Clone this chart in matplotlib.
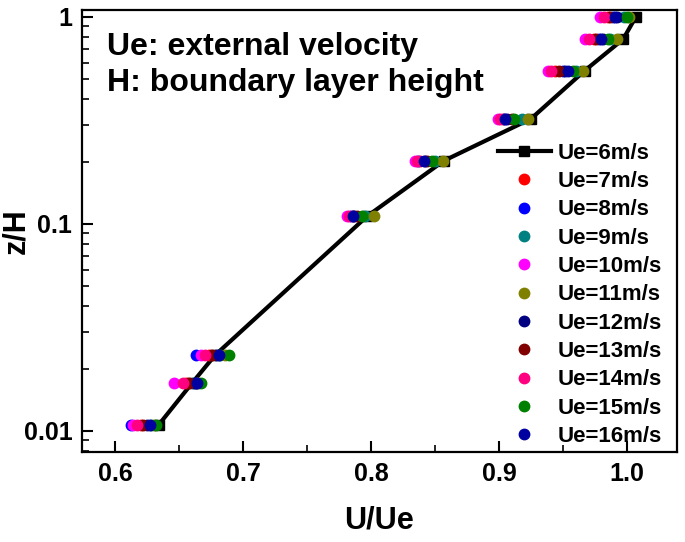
import matplotlib
matplotlib.use("Agg")
import matplotlib.pyplot as plt
import numpy as np

plt.rcParams['font.family'] = ['Liberation Sans', 'DejaVu Sans']
plt.rcParams['font.weight'] = 'bold'

# z/H levels
z_h = [0.0107, 0.017, 0.0232, 0.109, 0.202, 0.322, 0.55, 0.78, 1.0]

# U/Ue for each external velocity
ue6 = [0.634, 0.660, 0.678, 0.797, 0.857, 0.925, 0.967, 0.997, 1.007]
ue7 = [0.620, 0.655, 0.673, 0.786, 0.838, 0.903, 0.944, 0.974, 0.985]
ue8 = [0.612, 0.663, 0.663, 0.784, 0.837, 0.904, 0.950, 0.978, 0.989]
ue9 = [0.628, 0.661, 0.682, 0.795, 0.850, 0.918, 0.960, 0.987, 0.998]
ue10 = [0.614, 0.646, 0.667, 0.781, 0.834, 0.899, 0.938, 0.967, 0.979]
ue11 = [0.630, 0.665, 0.686, 0.802, 0.856, 0.923, 0.966, 0.992, 1.002]
ue12 = [0.625, 0.662, 0.679, 0.787, 0.842, 0.906, 0.952, 0.981, 0.992]
ue13 = [0.622, 0.658, 0.676, 0.789, 0.844, 0.910, 0.947, 0.976, 0.987]
ue14 = [0.617, 0.653, 0.670, 0.783, 0.836, 0.901, 0.941, 0.970, 0.982]
ue15 = [0.632, 0.667, 0.689, 0.793, 0.848, 0.912, 0.958, 0.985, 1.000]
ue16 = [0.627, 0.664, 0.681, 0.786, 0.841, 0.905, 0.954, 0.980, 0.991]

labels = ["Ue=6m/s", "Ue=7m/s", "Ue=8m/s", "Ue=9m/s", "Ue=10m/s", "Ue=11m/s",
          "Ue=12m/s", "Ue=13m/s", "Ue=14m/s", "Ue=15m/s", "Ue=16m/s"]
colors = ["#000000", "#ff0000", "#0000ff", "#008080", "#ff00ff", "#808000",
          "#000080", "#800000", "#ff0080", "#008000", "#0000a0"]
series = [ue6, ue7, ue8, ue9, ue10, ue11, ue12, ue13, ue14, ue15, ue16]

fig = plt.figure(figsize=(6.85, 5.42), dpi=100)
ax = fig.add_axes([0.1197, 0.166, 0.8683, 0.8155])

ax.plot(ue6, z_h, color="black", lw=3, marker="s", ms=6.5, label=labels[0], zorder=2)
for i in range(1, len(series)):
    ax.plot(series[i], z_h, ls="none", marker="o", ms=7.5, color=colors[i],
            label=labels[i], zorder=3)

ax.set_yscale("log")
ax.set_xlim(0.574, 1.039)
ax.set_ylim(0.0079, 1.08)
ax.set_xticks([0.6, 0.7, 0.8, 0.9, 1.0])
ax.set_xticks([0.65, 0.75, 0.85, 0.95], minor=True)
ax.set_xticklabels(["0.6", "0.7", "0.8", "0.9", "1.0"])
ax.set_yticks([0.01, 0.1, 1])
ax.set_yticklabels(["0.01", "0.1", "1"])

for s in ax.spines.values():
    s.set_linewidth(1.6)
ax.tick_params(which="major", direction="in", length=8, width=1.5, labelsize=18, pad=7)
ax.tick_params(which="minor", direction="in", length=5, width=1.2)
ax.tick_params(axis="y", which="minor", labelleft=False)

ax.set_xlabel("U/Ue", fontsize=22, fontweight="bold", labelpad=14)
ax.set_ylabel("z/H", fontsize=22, fontweight="bold")
ax.yaxis.set_label_coords(-0.085, 0.5)

ax.text(0.042, 0.916, "Ue: external velocity", transform=ax.transAxes,
        fontsize=23, fontweight="bold", va="center")
ax.text(0.042, 0.836, "H: boundary layer height", transform=ax.transAxes,
        fontsize=23, fontweight="bold", va="center")

ax.legend(loc="upper right", bbox_to_anchor=(0.99, 0.72), frameon=False,
          labelspacing=0.33, handlelength=2.4, handletextpad=0.3,
          borderaxespad=0, prop={"weight": "bold", "size": 16})

fig.savefig("out.png", dpi=100)
